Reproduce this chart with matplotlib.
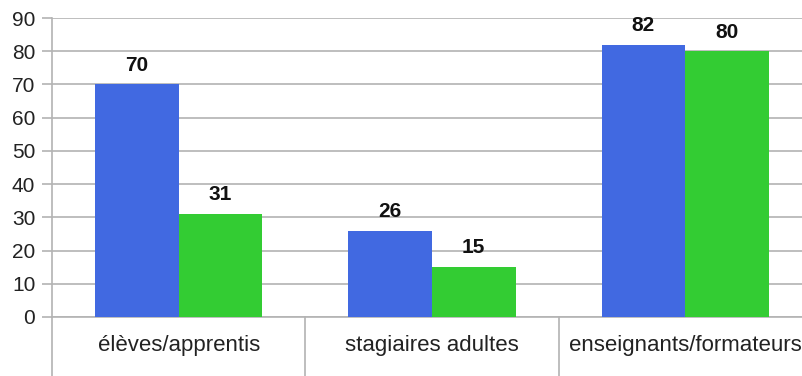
import numpy
from matplotlib import pyplot as plt
from matplotlib import transforms

# categories and values for the two series
categories = ['élèves/apprentis', 'stagiaires adultes', 'enseignants/formateurs']
series_blue = [70, 26, 82]
series_green = [31, 15, 80]
y_ticks = [0, 10, 20, 30, 40, 50, 60, 70, 80, 90]

plt.rcParams['font.family'] = ['Liberation Sans', 'DejaVu Sans']

fig = plt.figure(figsize=(8.03, 3.76), dpi=100)
ax = fig.add_axes([52 / 803, 59 / 376, 751 / 803, 299 / 376])

x = numpy.arange(len(categories))
width = 0.33
grid_color = '#b3b3b3'

bars_blue = ax.bar(x - width / 2, series_blue, width, color='#4169e1', zorder=3)
bars_green = ax.bar(x + width / 2, series_green, width, color='#33cc33', zorder=3)

# value labels above the bars
for bars, values in ((bars_blue, series_blue), (bars_green, series_green)):
    for bar, v in zip(bars, values):
        ax.annotate('%i' % v, (bar.get_x() + bar.get_width() / 2, v),
                    xytext=(0, 7), textcoords='offset points',
                    ha='center', va='bottom', fontsize=15, fontweight='bold', color='#111111')

ax.set_ylim(0, 90)
ax.set_xlim(-0.5, 2.465)
ax.set_yticks(y_ticks)
ax.yaxis.grid(True, color=grid_color, linewidth=1.2, zorder=0)
ax.tick_params(axis='y', length=7, width=1.2, color=grid_color, pad=5,
               labelsize=15, labelcolor='#222222')
ax.set_xticks(x)
ax.set_xticklabels(categories)
ax.tick_params(axis='x', length=0, pad=13, labelsize=16, labelcolor='#222222')

for side in ('top', 'right'):
    ax.spines[side].set_visible(False)
ax.spines['left'].set_color(grid_color)
ax.spines['left'].set_linewidth(1.2)
ax.spines['bottom'].set_color(grid_color)
ax.spines['bottom'].set_linewidth(1.2)

# category separators reaching down below the axis
trans = transforms.blended_transform_factory(ax.transData, ax.transAxes)
for sep in numpy.arange(-0.5, len(categories), 1.0):
    ax.plot([sep, sep], [0, -59 / 299], transform=trans, color=grid_color,
            linewidth=1.2, clip_on=False)

fig.savefig('out.png', dpi=100)
